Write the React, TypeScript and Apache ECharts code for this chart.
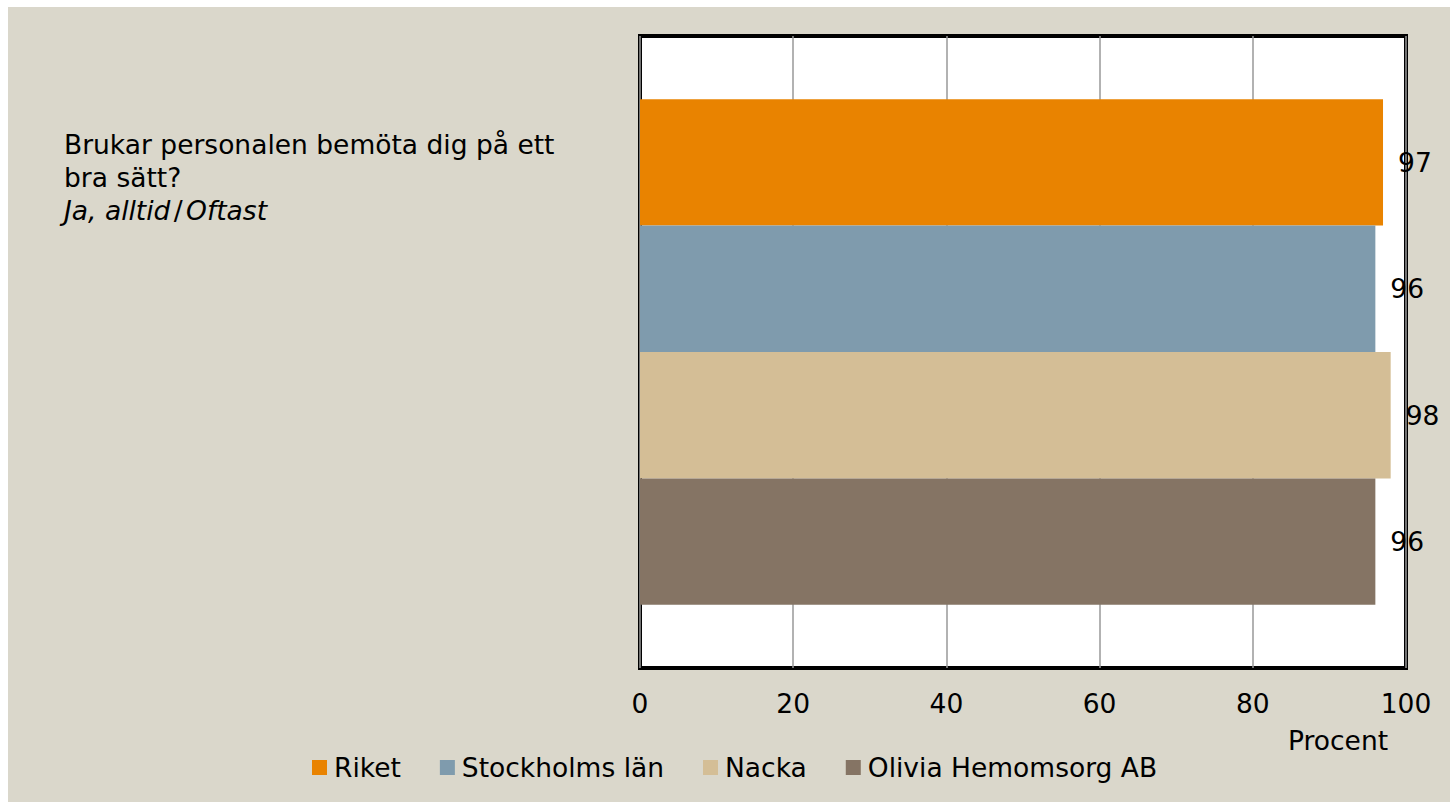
import React, { useEffect, useRef } from "react";
import * as echarts from "echarts";

const categories = ["Brukar personalen bemöta dig på ett bra sätt?"];
const seriesNames = ["Riket", "Stockholms län", "Nacka", "Olivia Hemomsorg AB"];
const seriesValues = [[97], [96], [98], [96]];
const seriesColors = ["#E98300", "#7F9BAD", "#D4BE96", "#857464"];
const xTicks = [0, 20, 40, 60, 80, 100];

const FONT = "DejaVu Sans";
const FS = 26.5;

export default function App() {
  const ref = useRef<HTMLDivElement>(null);
  useEffect(() => {
    if (!ref.current) return;
    const chart = echarts.init(ref.current, undefined, { renderer: "svg" });
    chart.setOption({
      animation: false,
      backgroundColor: "#DAD7CB",
      textStyle: { fontFamily: FONT },
      grid: {
        left: 632,
        top: 29,
        right: 44,
        bottom: 134,
        show: true,
        backgroundColor: "#FFFFFF",
        borderColor: "#000000",
        borderWidth: 4,
        containLabel: false,
      },
      xAxis: {
        type: "value",
        min: xTicks[0],
        max: xTicks[xTicks.length - 1],
        interval: 20,
        axisLine: { show: false },
        axisTick: { show: false },
        splitLine: { show: true, lineStyle: { color: "#999999", width: 1.5 } },
        axisLabel: { color: "#000", fontSize: FS, fontFamily: FONT, margin: 22 },
      },
      yAxis: {
        type: "category",
        data: categories,
        inverse: true,
        axisLine: { show: false },
        axisTick: { show: false },
        axisLabel: { show: false },
      },
      legend: {
        left: 299,
        top: 742,
        itemWidth: 15,
        itemHeight: 15,
        itemGap: 39,
        icon: "rect",
        textStyle: { color: "#000", fontSize: FS, fontFamily: FONT, padding: [0, 0, 0, 2] },
        data: seriesNames,
      },
      graphic: [
        {
          type: "text",
          left: 56,
          top: 124,
          style: {
            text: "{a|Brukar personalen bemöta dig på ett}\n{a|bra sätt?}\n{i|Ja, alltid} {a|/} {i|Oftast}",
            rich: {
              a: { fontSize: FS, fontFamily: FONT, fill: "#000", lineHeight: 33 },
              i: { fontSize: FS, fontFamily: FONT, fill: "#000", fontStyle: "italic", lineHeight: 33 },
            },
          },
        },
        {
          type: "text",
          left: 1280,
          top: 720,
          style: { text: "Procent", fontSize: FS, fontFamily: FONT, fill: "#000" },
        },
      ],
      series: seriesNames.map((name, i) => ({
        name,
        type: "bar",
        data: seriesValues[i],
        barGap: "0%",
        barCategoryGap: "20%",
        itemStyle: { color: seriesColors[i] },
        label: {
          show: true,
          position: "right",
          distance: 15,
          color: "#000",
          fontSize: FS,
          fontFamily: FONT,
        },
      })),
    });
    return () => chart.dispose();
  }, []);
  return (
    <div
      ref={ref}
      style={{ position: "absolute", left: 8, top: 7, width: 1442, height: 795 }}
    />
  );
}
